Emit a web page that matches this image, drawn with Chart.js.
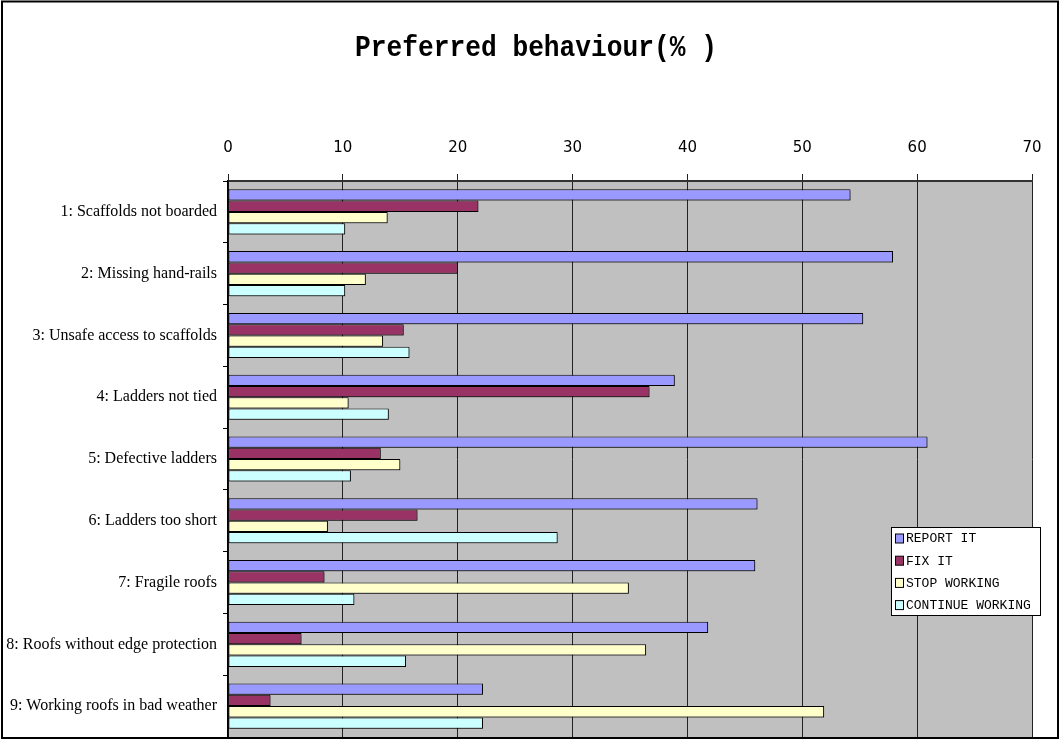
<!DOCTYPE html>
<html>
<head>
<meta charset="utf-8">
<script src="https://cdn.jsdelivr.net/npm/chart.js@4/dist/chart.umd.min.js"></script>
<style>
  html, body { margin: 0; padding: 0; background: #ffffff; }
  #wrap { width: 1062px; height: 741px; }
</style>
</head>
<body>
<div id="wrap"><canvas id="c" width="1062" height="741"></canvas></div>
<script>
const categories = [
  "1: Scaffolds not boarded",
  "2: Missing hand-rails",
  "3: Unsafe access to scaffolds",
  "4: Ladders not tied",
  "5: Defective ladders",
  "6: Ladders too short",
  "7: Fragile roofs",
  "8: Roofs without edge protection",
  "9: Working roofs in bad weather"
];
const seriesNames = ["REPORT IT", "FIX IT", "STOP WORKING", "CONTINUE WORKING"];
const reportIt        = [54.2, 57.9, 55.3, 38.9, 60.9, 46.1, 45.9, 41.8, 22.2];
const fixIt           = [21.8, 20.0, 15.3, 36.7, 13.3, 16.5, 8.4, 6.4, 3.7];
const stopWorking     = [13.9, 12.0, 13.5, 10.5, 15.0, 8.7, 34.9, 36.4, 51.9];
const continueWorking = [10.2, 10.2, 15.8, 14.0, 10.7, 28.7, 11.0, 15.5, 22.2];
const xTicks = [0, 10, 20, 30, 40, 50, 60, 70];
const chartTitle = "Preferred behaviour(% )";

const colors = ["#9999FF", "#993366", "#FFFFCC", "#CCFFFF"];
const seriesValues = [reportIt, fixIt, stopWorking, continueWorking];

const frameAndBg = {
  id: "frameAndBg",
  beforeDraw(chart) {
    const ctx = chart.ctx, a = chart.chartArea;
    ctx.save();
    ctx.fillStyle = "#ffffff";
    ctx.fillRect(0, 0, chart.width, chart.height);
    ctx.fillStyle = "#C0C0C0";
    ctx.fillRect(a.left, a.top, a.right - a.left, a.bottom - a.top);
    ctx.restore();
  },
  beforeDatasetsDraw(chart) {
    const ctx = chart.ctx;
    ctx.save();
    ctx.shadowColor = "rgba(0,0,0,0.35)";
    ctx.shadowOffsetX = 1.5;
    ctx.shadowOffsetY = 1.5;
    ctx.shadowBlur = 0;
  },
  afterDatasetsDraw(chart) {
    chart.ctx.restore();
  },
  afterDraw(chart) {
    const ctx = chart.ctx;
    ctx.save();
    ctx.strokeStyle = "#000000";
    ctx.lineWidth = 2;
    ctx.strokeRect(2, 1.5, 1056, 736.5);
    // title
    ctx.font = "bold 29px 'Liberation Mono', monospace";
    ctx.fillStyle = "#000000";
    ctx.textAlign = "center";
    ctx.textBaseline = "middle";
    const tw = ctx.measureText(chartTitle).width;
    const sx = 362 / tw;
    ctx.translate(536, 49);
    ctx.scale(sx, 1);
    ctx.fillText(chartTitle, 0, 0);
    ctx.restore();
  }
};

const boxLegend = {
  id: "boxLegend",
  afterDatasetsDraw(chart) {
    const ctx = chart.ctx;
    const x0 = 891.5, y0 = 527.5, w = 149, h = 88;
    ctx.save();
    ctx.shadowColor = "transparent";
    ctx.fillStyle = "#ffffff";
    ctx.fillRect(x0, y0, w, h);
    ctx.strokeStyle = "#000000";
    ctx.lineWidth = 1;
    ctx.strokeRect(x0, y0, w, h);
    ctx.font = "13px 'Liberation Mono', monospace";
    ctx.textBaseline = "middle";
    ctx.textAlign = "left";
    chart.data.datasets.forEach((ds, i) => {
      const cy = 538.5 + i * 22.2;
      ctx.fillStyle = ds.backgroundColor;
      ctx.fillRect(895.5, cy - 4.5, 8, 9);
      ctx.strokeStyle = "#000000";
      ctx.strokeRect(895.5, cy - 4.5, 8, 9);
      ctx.fillStyle = "#000000";
      ctx.fillText(ds.label, 906, cy + 0.5);
    });
    ctx.restore();
  }
};

new Chart(document.getElementById("c"), {
  type: "bar",
  data: {
    labels: categories,
    datasets: seriesNames.map((name, i) => ({
      label: name,
      data: seriesValues[i],
      backgroundColor: colors[i],
      borderColor: "#000000",
      borderWidth: 1,
      borderSkipped: false,
      categoryPercentage: 0.73,
      barPercentage: 1.0
    }))
  },
  options: {
    indexAxis: "y",
    responsive: false,
    maintainAspectRatio: false,
    animation: false,
    devicePixelRatio: 1,
    layout: { padding: { left: 0, top: 0, right: 30, bottom: 4 } },
    plugins: {
      legend: { display: false },
      tooltip: { enabled: false },
      title: { display: false }
    },
    scales: {
      x: {
        position: "top",
        min: 0,
        max: 70,
        afterBuildTicks(scale) { scale.ticks = xTicks.map(v => ({ value: v })); },
        afterFit(scale) { scale.height = 181; },
        ticks: {
          color: "#000000",
          padding: 17,
          font: { family: "'DejaVu Sans', sans-serif", size: 15 }
        },
        grid: {
          color: "#222222",
          lineWidth: 1,
          tickLength: 7,
          drawTicks: true
        },
        border: { display: true, color: "#333333", width: 2 }
      },
      y: {
        afterFit(scale) {
          scale.width = 228;
          scale.paddingTop = 0;
          scale.paddingBottom = 0;
        },
        ticks: {
          color: "#000000",
          padding: 6,
          font: { family: "'Liberation Serif', serif", size: 16 }
        },
        grid: {
          offset: true,
          drawOnChartArea: false,
          drawTicks: true,
          tickLength: 5,
          color: "#000000"
        },
        border: { display: true, color: "#000000", width: 1.5 }
      }
    }
  },
  plugins: [frameAndBg, boxLegend]
});
</script>
</body>
</html>
